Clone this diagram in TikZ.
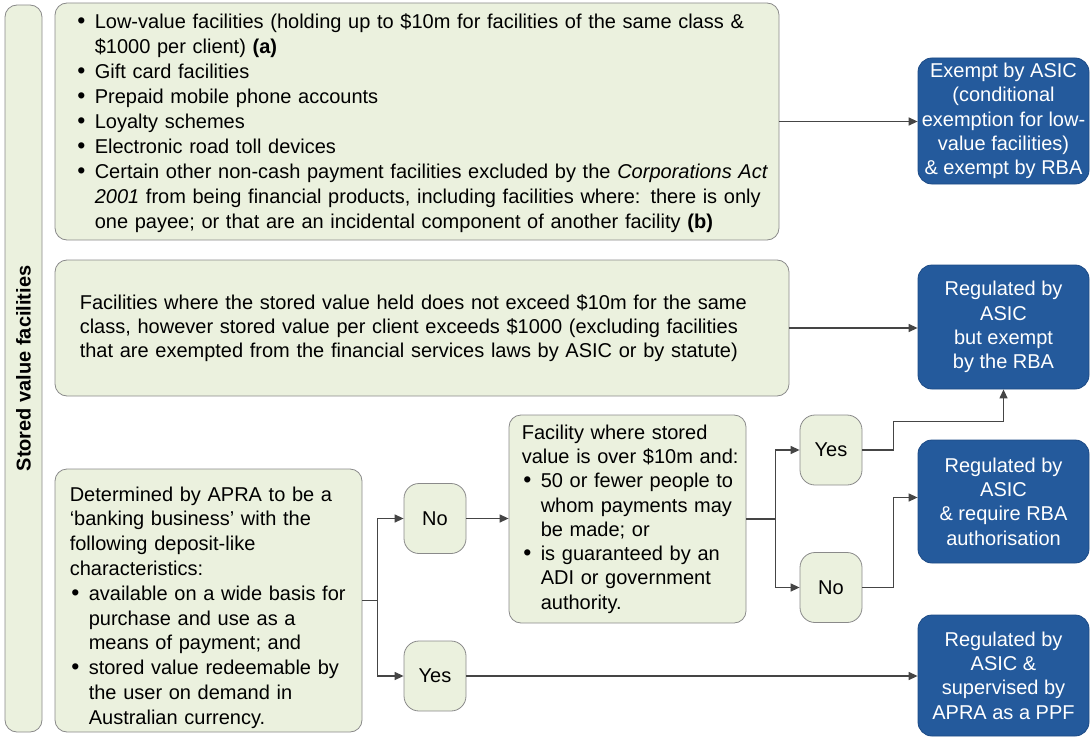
\documentclass[tikz,border=0pt]{standalone}
\usepackage{fontspec}
\setmainfont{Liberation Sans}
\usetikzlibrary{arrows.meta}
\definecolor{gfill}{HTML}{EBF1DE}
\definecolor{gline}{HTML}{8A8A8A}
\definecolor{bfill}{HTML}{245A9C}
\definecolor{bline}{HTML}{1C4A85}
\definecolor{aline}{HTML}{454545}
\newcommand{\tfont}{\fontsize{20}{24.3}\selectfont}
\newcommand{\bul}{\par\hangindent=19pt\hangafter=1\noindent\makebox[19pt][l]{\hspace{1.5pt}\scalebox{1.15}{\textbullet}}}
\newcommand{\nl}{\newline}
\tikzset{
  gbox/.style={draw=gline, fill=gfill, rounded corners=12pt, line width=0.8pt, inner sep=0pt},
  gtext/.style={anchor=west, inner sep=0pt, align=left, font=\tfont},
  bbox/.style={draw=bline, fill=bfill, rounded corners=14pt, line width=0.8pt, text=white, align=center, minimum width=171pt, inner sep=0pt, font=\tfont},
  yn/.style={gbox, rounded corners=15pt, minimum width=62pt, minimum height=70pt, align=center, font=\tfont},
  arr/.style={draw=aline, line width=1.3pt, -{Triangle[length=9pt,width=8pt]}},
}
\begin{document}
\begin{tikzpicture}[x=1pt,y=-1pt]
\useasboundingbox (0,0) rectangle (1091,738);
% left bar
\node[gbox, rotate=90, minimum width=727pt, minimum height=37pt, align=center, font=\tfont\bfseries] (bar) at (23.5,368.5) {Stored value facilities};
% box 1
\node[gbox, minimum width=724pt, minimum height=237pt] (b1) at (417,121.5) {};
\node[gtext, text width=740pt, font=\fontsize{20}{25}\selectfont] (t1) at ([xshift=21pt,yshift=3pt]b1.west) {%
\bul Low-value facilities (holding up to \$10m for facilities of the same class \&\nl\$1000 per client) \textbf{(a)}
\bul Gift card facilities
\bul Prepaid mobile phone accounts
\bul Loyalty schemes
\bul Electronic road toll devices
\bul Certain other non-cash payment facilities excluded by the \textit{Corporations Act}\nl\textit{2001} from being financial products, including facilities where: there is only\nl one payee; or that are an incidental component of another facility \textbf{(b)}\par};
% box 2
\node[gbox, minimum width=734pt, minimum height=136pt] (b2) at (422,328) {};
\node[gtext, text width=740pt] (t2) at ([xshift=25pt]b2.west) {Facilities where the stored value held does not exceed \$10m for the same\\class, however stored value per client exceeds \$1000 (excluding facilities\\that are exempted from the financial services laws by ASIC or by statute)};
% APRA box
\node[gbox, minimum width=307pt, minimum height=263pt] (apra) at (208.5,600.5) {};
\node[gtext, text width=330pt, font=\fontsize{20}{24.8}\selectfont] (t3) at ([xshift=15pt,yshift=-7pt]apra.west) {%
Determined by APRA to be a\nl‘banking business’ with the\nl following deposit-like\nl characteristics:
\bul available on a wide basis for\nl purchase and use as a\nl means of payment; and
\bul stored value redeemable by\nl the user on demand in\nl Australian currency.\par};
% yes/no
\node[yn] (no1) at (435,518.5) {No};
\node[yn] (yes1) at (435,676) {Yes};
% facility box
\node[gbox, minimum width=237pt, minimum height=208pt] (fac) at (627.5,519) {};
\node[gtext, text width=260pt] (t4) at ([xshift=13pt]fac.west) {%
Facility where stored\nl value is over \$10m and:
\bul 50 or fewer people to\nl whom payments may\nl be made; or
\bul is guaranteed by an\nl ADI or government\nl authority.\par};
\node[yn] (yes2) at (831,450) {Yes};
\node[yn] (no2) at (831,587.5) {No};
% blue boxes
\node[bbox, minimum height=126pt] (r1) at (1003.5,121) {Exempt by ASIC\\(conditional\\exemption for low-\\value facilities)\\\& exempt by RBA};
\node[bbox, minimum height=124pt] (r2) at (1003.5,327) {Regulated by\\ASIC\\but exempt\\by the RBA};
\node[bbox, minimum height=123pt] (r3) at (1003.5,501.5) {Regulated by\\ASIC\\\& require RBA\\authorisation};
\node[bbox, minimum height=121pt] (r4) at (1003.5,675.5) {Regulated by\\ASIC \&\\supervised by\\APRA as a PPF};
% connectors
\draw[arr] (b1.east) -- (b1.east -| r1.west);
\draw[arr] (b2.east) -- (b2.east -| r2.west);
\draw[arr] (apra.east) -- ++(15,0) |- (no1.west);
\draw[arr] (apra.east) -- ++(15,0) |- (yes1.west);
\draw[arr] (no1.east) -- (no1.east -| fac.west);
\draw[arr] (fac.east) -- ++(29,0) |- (yes2.west);
\draw[arr] (fac.east) -- ++(29,0) |- (no2.west);
\draw[arr] (yes2.east) -- ++(31,0) |- ([yshift=-32pt]r2.south) -- (r2.south);
\draw[arr] (no2.east) -- ++(31,0) |- ([yshift=4pt]r3.west);
\draw[arr] (yes1.east) -- (yes1.east -| r4.west);
\end{tikzpicture}
\end{document}
